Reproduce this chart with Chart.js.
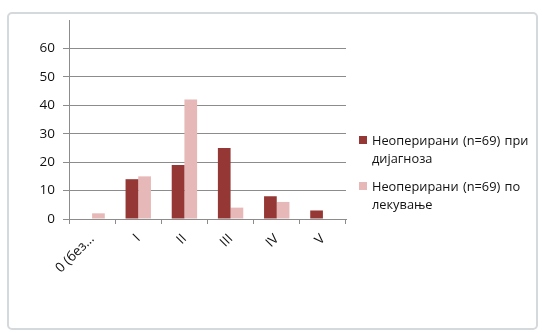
<!DOCTYPE html>
<html>
<head>
<meta charset="utf-8">
<script src="https://cdn.jsdelivr.net/npm/chart.js@4"></script>
<style>
  html, body { margin: 0; padding: 0; background: #fff; }
  #wrap { position: relative; width: 542px; height: 333px; overflow: hidden; }
  #frame {
    position: absolute; left: 7px; top: 12px; width: 531px; height: 318px;
    border: 2px solid #d3d9dc; border-radius: 5px; box-sizing: border-box;
  }
  #chart { position: absolute; left: 0; top: 0; }
  #legend {
    position: absolute; left: 359px; top: 131px; width: 180px;
    font-family: "Open Sans", sans-serif; font-size: 12.8px; color: #111;
    line-height: 18px; word-spacing: 1px;
  }
  .item { position: relative; padding-left: 13px; margin-bottom: 10px; }
  .box { position: absolute; left: 0; top: 5px; width: 8px; height: 8px; }
</style>
</head>
<body>
<div id="wrap">
  <div id="frame"></div>
  <canvas id="chart" width="542" height="333"></canvas>
  <div id="legend"></div>
</div>
<script>
const categories = ['0 (без...', 'I', 'II', 'III', 'IV', 'V'];
const beforeLabel = 'Неоперирани (n=69) при дијагноза';
const afterLabel = 'Неоперирани (n=69) по лекување';
const beforeValues = [0, 14, 19, 25, 8, 3];
const afterValues = [2, 15, 42, 4, 6, 0];
const yTicks = [0, 10, 20, 30, 40, 50, 60];

const darkRed = '#953735';
const lightPink = '#e6b9b8';
const axisGray = '#8c8c8c';
const font = { family: '"Open Sans", sans-serif', size: 13.5 };

const chart = new Chart(document.getElementById('chart'), {
    type: 'bar',
    data: {
        labels: categories,
        datasets: [
            { label: beforeLabel, data: beforeValues, backgroundColor: darkRed },
            { label: afterLabel, data: afterValues, backgroundColor: lightPink }
        ]
    },
    options: {
        responsive: false,
        animation: false,
        layout: { padding: { left: 0, top: 20, right: 196, bottom: 0 } },
        categoryPercentage: 0.55,
        barPercentage: 1.0,
        plugins: { legend: { display: false }, tooltip: { enabled: false } },
        scales: {
            x: {
                afterFit: (scale) => { scale.height = 114; },
                grid: {
                    display: true, drawOnChartArea: false, offset: true,
                    color: axisGray, tickLength: 5
                },
                border: { color: axisGray },
                ticks: {
                    color: '#111', font: font,
                    maxRotation: 45, minRotation: 45, padding: 7
                }
            },
            y: {
                min: 0, max: 70,
                afterFit: (scale) => { scale.width = 69; },
                afterBuildTicks: (scale) => {
                    scale.ticks = yTicks.concat([70]).map(v => ({ value: v }));
                },
                grid: {
                    color: (c) => c.tick && c.tick.value === 70 ? 'rgba(0,0,0,0)' : axisGray,
                    tickLength: 6
                },
                border: { color: axisGray },
                ticks: {
                    color: '#111', font: font, padding: 8,
                    callback: (v) => yTicks.includes(v) ? v : ''
                }
            }
        }
    }
});

// legend built from the datasets, text wraps inside the right column
const legend = document.getElementById('legend');
chart.data.datasets.forEach(ds => {
    const item = document.createElement('div');
    item.className = 'item';
    const box = document.createElement('span');
    box.className = 'box';
    box.style.background = ds.backgroundColor;
    item.appendChild(box);
    item.appendChild(document.createTextNode(ds.label));
    legend.appendChild(item);
});
</script>
</body>
</html>
